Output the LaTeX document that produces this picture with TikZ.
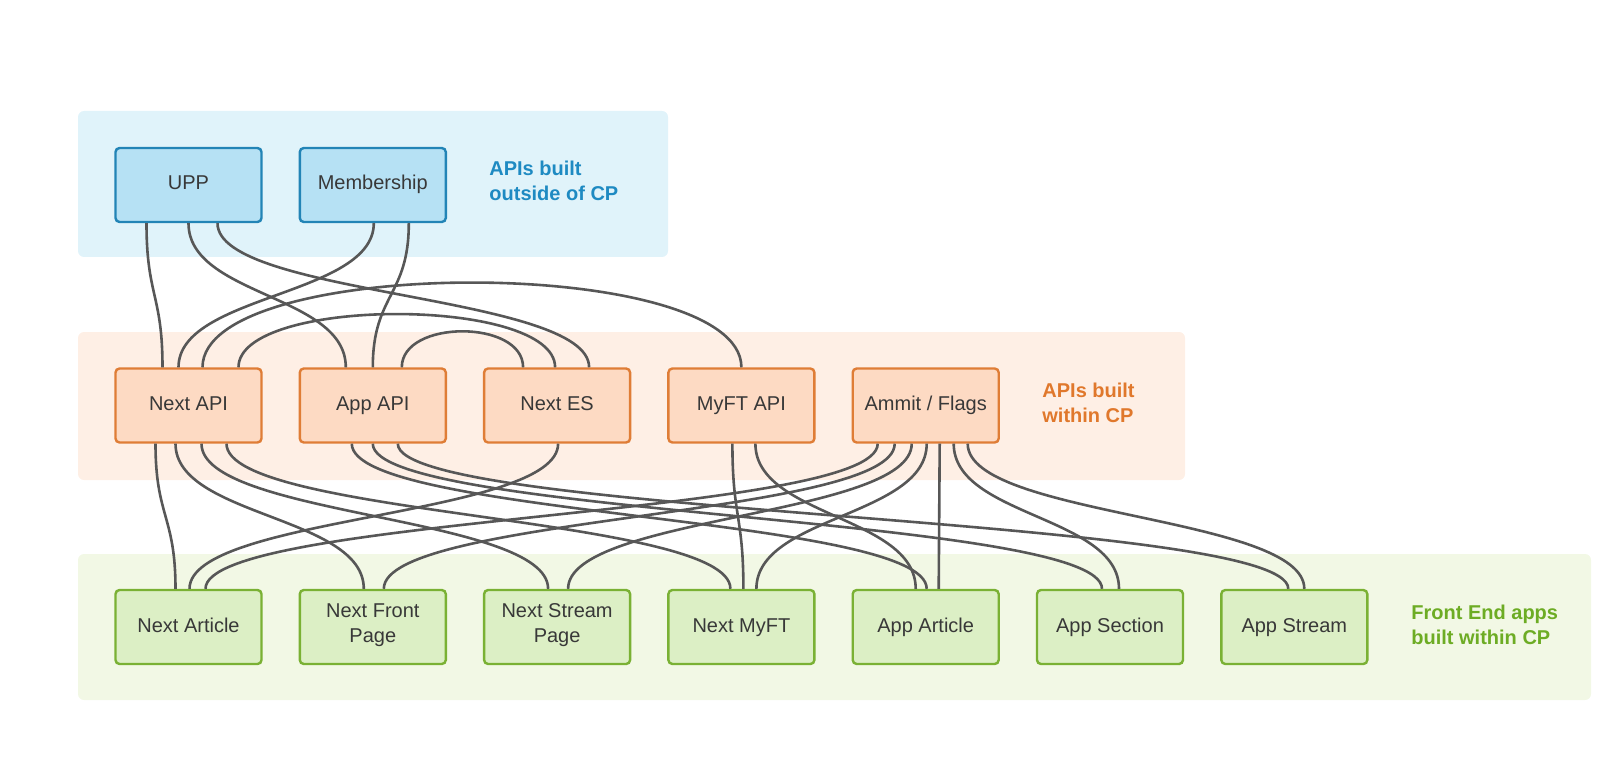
\documentclass[tikz,border=0pt]{standalone}
\usepackage{fontspec}
\setmainfont{Liberation Sans}
\usetikzlibrary{calc}

\begin{document}
\begin{tikzpicture}[x=0.5pt,y=-0.5pt]

            % CANVAS
            \useasboundingbox (0,0) rectangle (1600,759);

            % COLORS
            \definecolor{bandcolor_outside}{HTML}{E0F3FA}
            \definecolor{fillcolor_outside}{HTML}{B6E1F4}
            \definecolor{linecolor_outside}{HTML}{2284B6}
            \definecolor{textcolor_outside}{HTML}{1E8AC2}
            \definecolor{bandcolor_within}{HTML}{FEEFE5}
            \definecolor{fillcolor_within}{HTML}{FDDAC3}
            \definecolor{linecolor_within}{HTML}{DF7D36}
            \definecolor{textcolor_within}{HTML}{E0782C}
            \definecolor{bandcolor_front}{HTML}{F2F8E5}
            \definecolor{fillcolor_front}{HTML}{DCEFC5}
            \definecolor{linecolor_front}{HTML}{7AB134}
            \definecolor{textcolor_front}{HTML}{6DAC24}
            \definecolor{edgecolor_all}{HTML}{575757}

            % DEF STYLES
            \tikzstyle{boxstyle} = [rectangle, rounded corners=2pt, line width=1.2pt, minimum width=73pt, minimum height=37pt, inner sep=2pt, align=center, text=black!78, font=\fontsize{10}{12.5}\selectfont, execute at begin node=\strut, execute at end node=\strut]
            \tikzstyle{boxstyle_outside} = [boxstyle, draw=linecolor_outside, fill=fillcolor_outside]
            \tikzstyle{boxstyle_within} = [boxstyle, draw=linecolor_within, fill=fillcolor_within]
            \tikzstyle{boxstyle_front} = [boxstyle, draw=linecolor_front, fill=fillcolor_front]
            \tikzstyle{labelstyle} = [anchor=west, align=left, inner sep=0pt, font=\fontsize{10}{12.5}\selectfont\bfseries]
            \tikzstyle{edgestyle} = [line width=1.3pt, color=edgecolor_all]

            % BANDS
            \fill[bandcolor_outside, rounded corners=3pt] (78,111) rectangle (668,257);
            \fill[bandcolor_within, rounded corners=3pt] (78,332) rectangle (1185,480);
            \fill[bandcolor_front, rounded corners=3pt] (78,554) rectangle (1591,700);

            % NODES, OUTSIDE OF CP
            \node[boxstyle_outside] (upp) at (188.5,185) {UPP};
            \node[boxstyle_outside] (membership) at (372.8,185) {Membership};
            \node[labelstyle, text=textcolor_outside] (label_outside) at (489,181) {APIs built\\outside of CP};

            % NODES, WITHIN CP
            \node[boxstyle_within] (nextapi) at (188.5,405.5) {Next API};
            \node[boxstyle_within] (appapi) at (372.8,405.5) {App API};
            \node[boxstyle_within] (nextes) at (557.1,405.5) {Next ES};
            \node[boxstyle_within] (myftapi) at (741.4,405.5) {MyFT API};
            \node[boxstyle_within] (ammit) at (925.7,405.5) {Ammit / Flags};
            \node[labelstyle, text=textcolor_within] (label_within) at (1042,403) {APIs built\\within CP};

            % NODES, FRONT END
            \node[boxstyle_front] (nextarticle) at (188.5,627) {Next Article};
            \node[boxstyle_front] (nextfront) at (372.8,627) {Next Front\\Page};
            \node[boxstyle_front] (nextstream) at (557.1,627) {Next Stream\\Page};
            \node[boxstyle_front] (nextmyft) at (741.4,627) {Next MyFT};
            \node[boxstyle_front] (apparticle) at (925.7,627) {App Article};
            \node[boxstyle_front] (appsection) at (1110,627) {App Section};
            \node[boxstyle_front] (appstream) at (1294.3,627) {App Stream};
            \node[labelstyle, text=textcolor_front] (label_front) at (1411,625) {Front End apps\\built within CP};

            % EDGES, DOWNWARDS
            \foreach \s/\ds/\t/\dt in {upp/-42/nextapi/-26, upp/0/appapi/-27, upp/29/nextes/32,
              membership/1/nextapi/-10, membership/36/appapi/0,
              nextapi/-33/nextarticle/-13, nextapi/-13/nextfront/-9, nextapi/13/nextstream/-9, nextapi/38/nextmyft/-11,
              appapi/-21/apparticle/1, appapi/0/appsection/-8, appapi/25/appstream/-6,
              nextes/1/nextarticle/1, myftapi/-9/nextmyft/2, myftapi/14/apparticle/-10,
              ammit/-48/nextarticle/17, ammit/-31/nextfront/11, ammit/-14/nextstream/11, ammit/1/nextmyft/15,
              ammit/14/apparticle/13, ammit/28/appsection/9, ammit/42/appstream/10} {
              \draw[edgestyle] ($(\s.south)+(\ds,0)$) .. controls +(0,73) and +(0,-73) .. ($(\t.north)+(\dt,0)$);
            }

            % EDGES, ARCS
            \foreach \s/\ds/\t/\dt/\h in {nextapi/14/myftapi/0/113, nextapi/50/nextes/-2/71, appapi/29/nextes/-34/48} {
              \draw[edgestyle] ($(\s.north)+(\ds,0)$) .. controls +(0,-\h) and +(0,-\h) .. ($(\t.north)+(\dt,0)$);
            }

\end{tikzpicture}
\end{document}
